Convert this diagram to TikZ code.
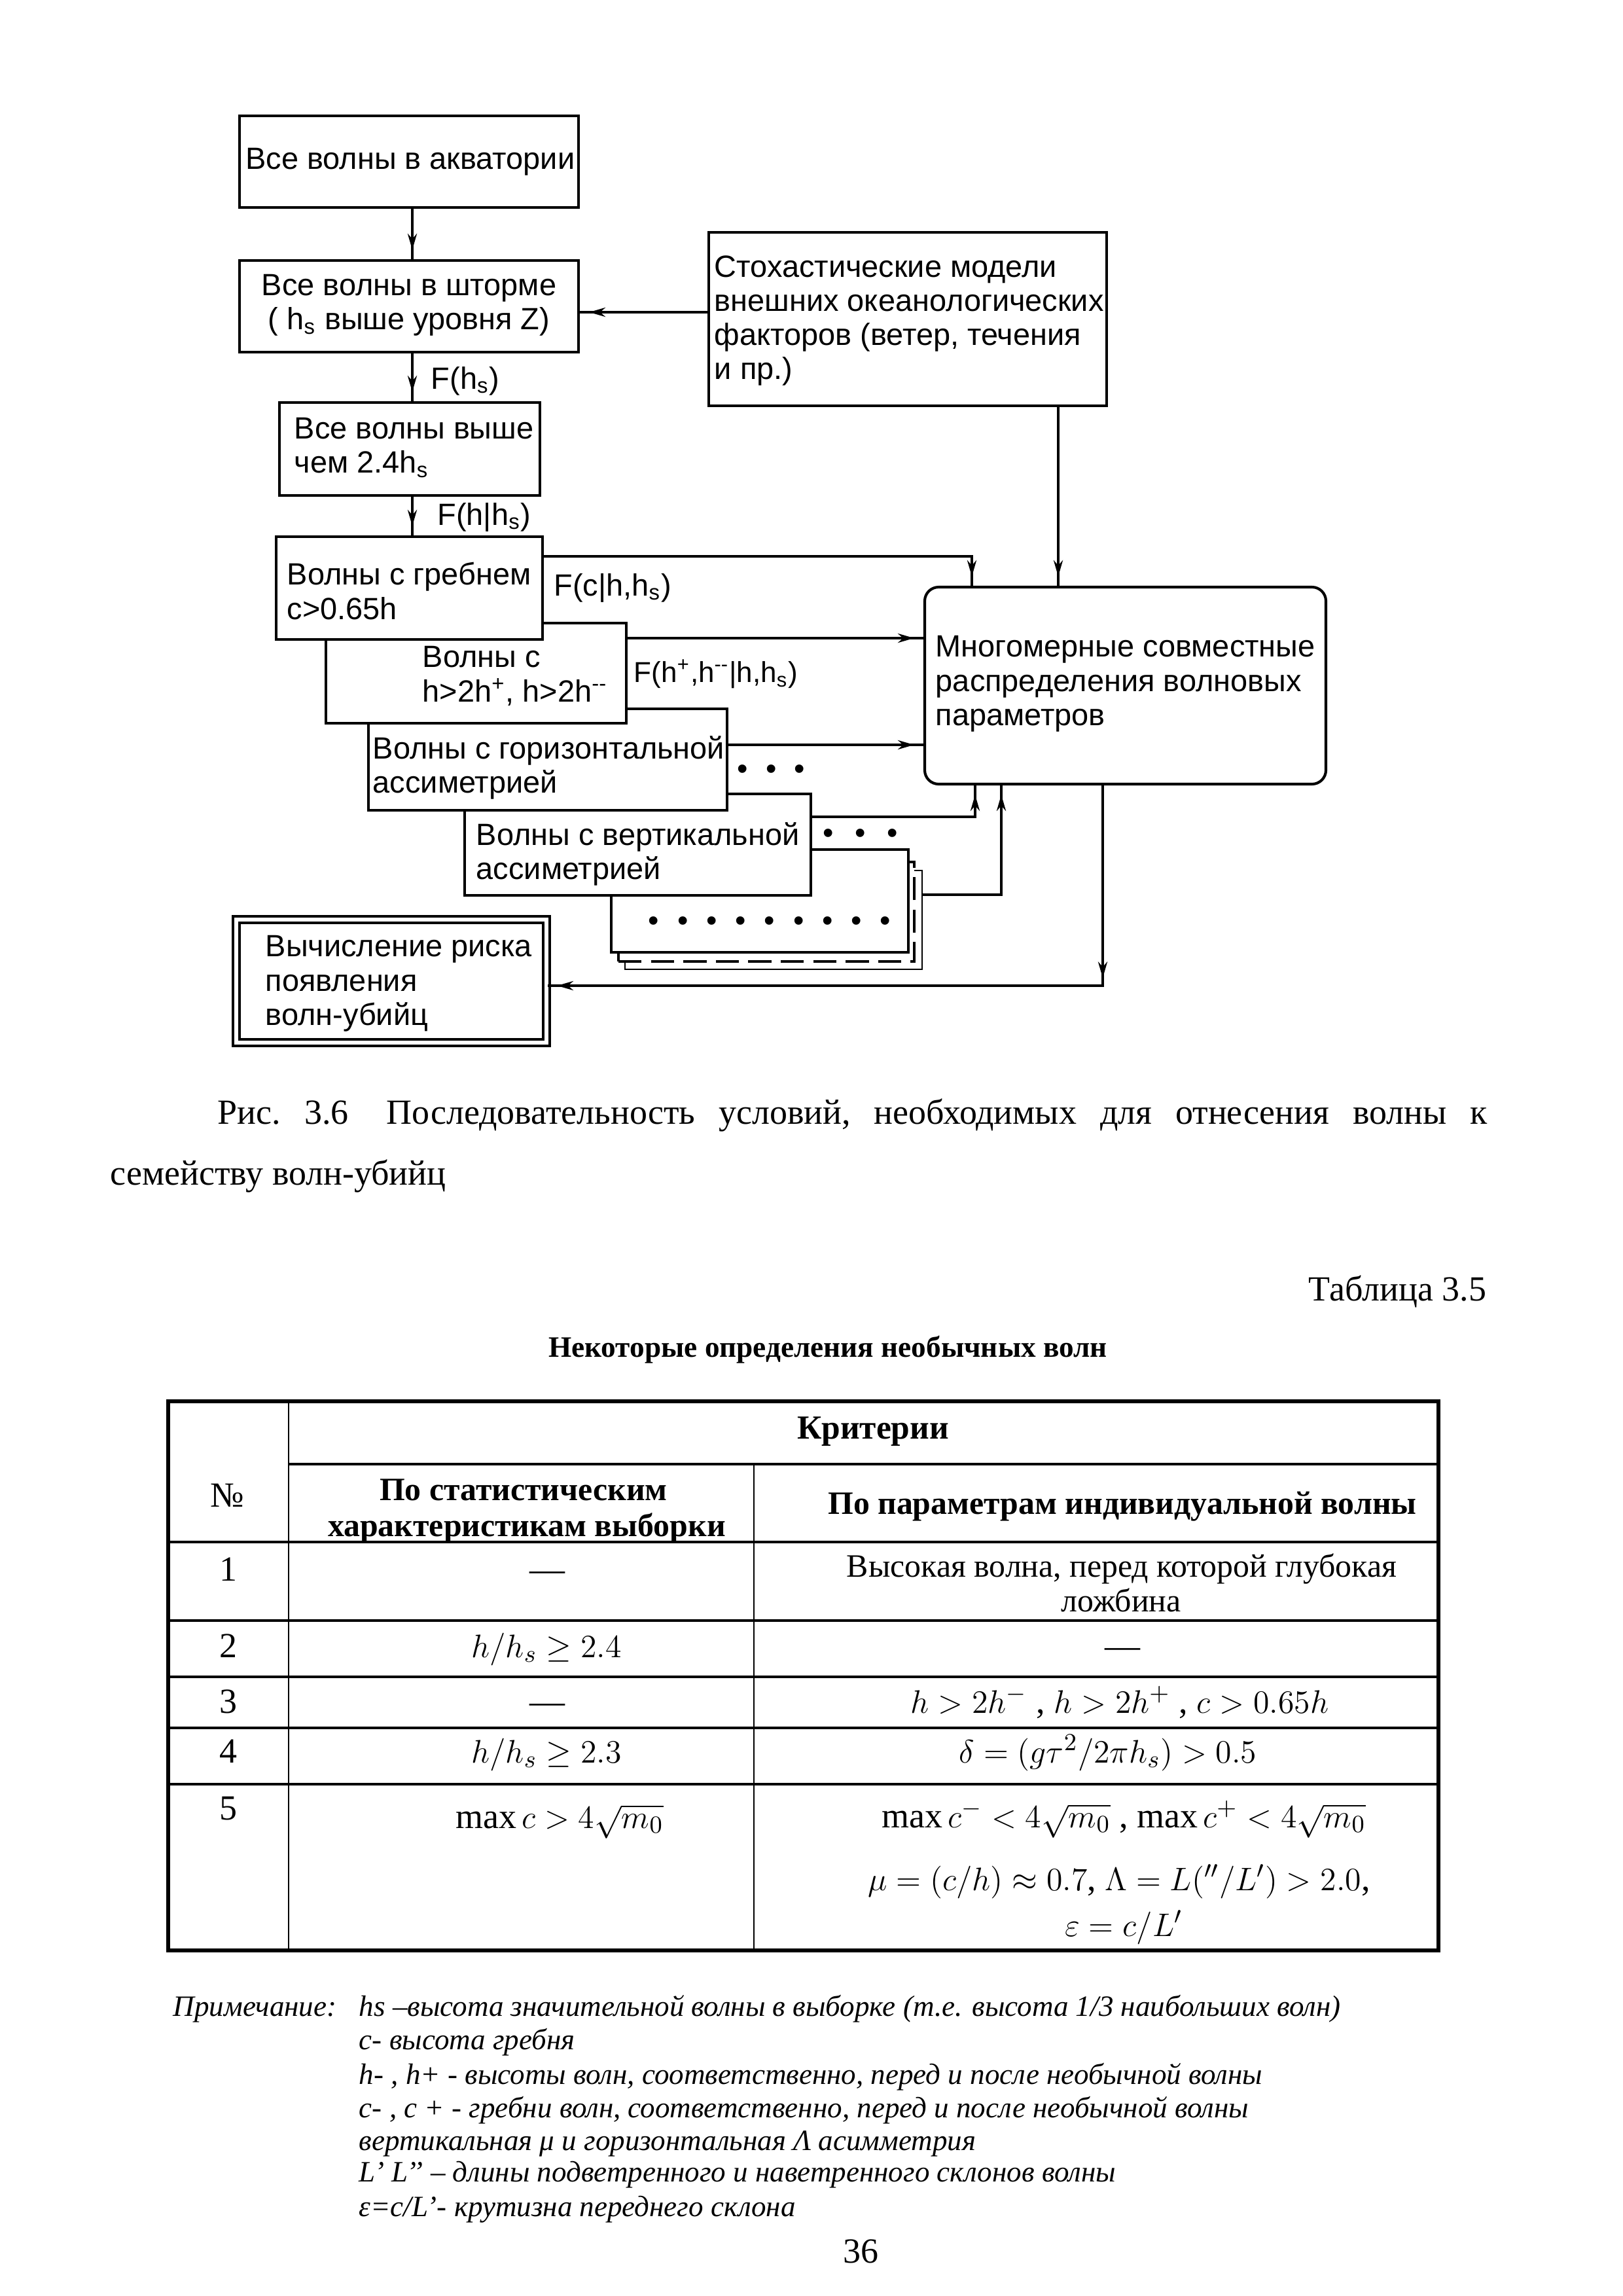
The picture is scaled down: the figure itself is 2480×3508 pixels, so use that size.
\documentclass[tikz,border=0pt]{standalone}
\usepackage{fontspec}
\setmainfont{Liberation Serif}
\newfontfamily\arialf{Liberation Sans}
\usetikzlibrary{arrows.meta,decorations.markings,fit}
\newdimen\pxu \pxu=0.0846667mm
\begin{document}
\begin{tikzpicture}[x=0.0846667mm,y=-0.0846667mm,
  >={Stealth[length=2.1mm,width=1.2mm]},
  box/.style={draw,line width=0.35mm,fill=white,inner sep=0pt},
  con/.style={line width=0.3mm},
  arr/.style={postaction={decorate},decoration={markings,mark=at position -1.2mm with {\arrow{>}}}},
  arrtwo/.style={postaction={decorate},decoration={markings,mark=at position 24.9mm with {\arrow{>}},mark=at position -1.2mm with {\arrow{>}}}},
  ft/.style={font=\arialf\fontsize{11.3}{12.6}\selectfont,inner sep=0pt,align=left},
  dotf/.style={font=\arialf\fontsize{11.3}{12.6}\selectfont,inner sep=0pt},
  tf/.style={font=\fontsize{12}{14}\selectfont,inner sep=0pt,anchor=base},
  tm/.style={font=\fontsize{13}{15}\selectfont,inner sep=0pt,anchor=base},
  tb/.style={font=\bfseries\fontsize{12}{14}\selectfont,inner sep=0pt,anchor=base},
  cf/.style={font=\fontsize{13}{15}\selectfont,inner sep=0pt},
  nf/.style={font=\itshape\fontsize{10.85}{13}\selectfont,inner sep=0pt,anchor=base west},
  tline/.style={line width=0.4mm},
  vline/.style={line width=0.25mm}]
\useasboundingbox (0,0) rectangle (2480,3508);
\fill[white] (0,0) rectangle (2480,3508);

% ---------- flowchart boxes ----------
\node[box,fit={(366,177) (884,317)}] (B1) {};
\node[ft,align=center] (T1) at (627,247) {Все волны в акватории};
\node[box,fit={(366,398) (884,538)}] (B2) {};
\node[ft,align=center] (T2) at (625,466) {Все волны в шторме\\( h\textsubscript{s} выше уровня Z)};
\node[box,fit={(1083,355) (1691,620)}] (S) {};
\node[ft,anchor=west] (TS) at (1091,490) {Стохастические модели\\внешних океанологических\\факторов (ветер, течения\\и пр.)};
\node[box,fit={(427,615) (825,757)}] (B3) {};
\node[ft,anchor=west] (T3) at (449,684) {Все волны выше\\чем 2.4h\textsubscript{s}};

\node[box,line width=0.2mm,fit={(955,1330) (1409,1481)}] (S3) {};
\node[box,dashed,dash pattern=on 3mm off 1.2mm,fit={(945,1317) (1397,1469)}] (S2) {};
\node[box,fit={(934,1298) (1388,1455)}] (B8) {};
\foreach \i in {0,...,8}{\node[dotf] (d8\i) at (999+44.25*\i,1412) {•};}
\node[box,fit={(710,1213) (1239,1368)}] (B7) {};
\node[ft,anchor=west] (T7) at (727,1305) {Волны с вертикальной\\ассиметрией};
\node[box,fit={(563,1083) (1111,1238)}] (B6) {};
\node[ft,anchor=west] (T6) at (569,1173) {Волны с горизонтальной\\ассиметрией};
\node[box,fit={(498,952) (957,1105)}] (B5) {};
\node[ft,anchor=west] (T5) at (645,1033) {Волны с\\h>2h\textsuperscript{+}, h>2h\textsuperscript{--}};
\node[box,fit={(422,820) (829,977)}] (B4) {};
\node[ft,anchor=west] (T4) at (438,903) {Волны с гребнем\\c>0.65h};

\node[box,rounded corners=1.8mm,fit={(1413,897) (2026,1198)}] (Big) {};
\node[ft,anchor=west] (TB) at (1429,1045) {Многомерные совместные\\распределения волновых\\параметров};

\node[box,double,double distance=0.55mm,fit={(361,1405) (835,1593)}] (Fin) {};
\node[ft,anchor=west] (TF) at (405,1503) {Вычисление риска\\появления\\волн-убийц};

\foreach \i in {0,1,2}{\node[dotf] (d6\i) at (1135+43.5*\i,1180) {•};}
\foreach \i in {0,1,2}{\node[dotf] (d7\i) at (1266+49*\i,1278) {•};}

% ---------- labels ----------
\node[ft] (L1) at (711,582) {F(h\textsubscript{s})};
\node[ft] (L2) at (740,790) {F(h|h\textsubscript{s})};
\node[ft] (L3) at (936,898) {F(c|h,h\textsubscript{s})};
\node[ft,font=\arialf\fontsize{10.6}{12}\selectfont] (L4) at (1094,1030) {F(h\textsuperscript{+},h\textsuperscript{--}|h,h\textsubscript{s})};

% ---------- connectors ----------
\draw[con,arr] (B1.south -| 630,0) -- (B2.north -| 630,0);
\draw[con,arr] (S.west |- 0,477) -- (B2.east |- 0,477);
\draw[con,arr] (B2.south -| 630,0) -- (B3.north -| 630,0);
\draw[con,arr] (B3.south -| 630,0) -- (B4.north -| 630,0);
\draw[con,arr] (B4.east |- 0,850) -| (Big.north -| 1485,0);
\draw[con,arr] (S.south -| 1617,0) -- (Big.north -| 1617,0);
\draw[con,arr] (B5.east |- 0,975) -- (Big.west |- 0,975);
\draw[con,arr] (B6.east |- 0,1138) -- (Big.west |- 0,1138);
\draw[con,arr] (B7.east |- 0,1248) -| (Big.south -| 1490,0);
\draw[con,arr] (S3.east |- 0,1367) -| (Big.south -| 1530,0);
\draw[con,arrtwo] (Big.south -| 1685,0) |- (Fin.east |- 0,1506);

% ---------- caption ----------
\node[cf,anchor=base west] (cap1) at (332,1717) {\hbox to 1940\pxu{Рис.\hfil\ 3.6\hfil\hfil\ Последовательность\hfil\ условий,\hfil\ необходимых\hfil\ для\hfil\ отнесения\hfil\ волны\hfil\ к}};
\node[cf,anchor=base west] (cap2) at (168,1810) {семейству волн-убийц};
\node[cf,anchor=base east] (tabno) at (2272,1987) {Таблица 3.5};
\node[font=\bfseries\fontsize{10.9}{12}\selectfont,inner sep=0pt,anchor=base] (ttl) at (1265,2073) {Некоторые определения необычных волн};

% ---------- table ----------
\draw[line width=0.55mm] (257,2141) rectangle (2198,2980);
\draw[tline] (441,2237) -- (2198,2237);
\foreach \yy in {2356,2476,2562,2640,2726}{\draw[tline] (257,\yy) -- (2198,\yy);}
\draw[vline] (441,2141) -- (441,2980);
\draw[vline] (1152,2237) -- (1152,2980);

\node[tm] (hno) at (347,2302) {№};
\node[tb,font=\bfseries\fontsize{12.4}{14}\selectfont] (hcr) at (1334,2198) {Критерии};
\node[tb] (hs1) at (800,2292) {По статистическим};
\node[tb] (hs2) at (805,2347) {характеристикам выборки};
\node[tb] (hp) at (1715,2313) {По параметрам индивидуальной волны};

\node[tm] (n1) at (349,2415) {1};
\node[tm] (r1b) at (836,2415) {—};
\node[tf] (r1c) at (1714,2409) {Высокая волна, перед которой глубокая};
\node[tf] (r1d) at (1713,2462) {ложбина};

\node[tm] (n2) at (349,2532) {2};
\node[tm] (r2b) at (835,2532) {$h/h_s\geq 2.4$};
\node[tm] (r2c) at (1715,2532) {—};

\node[tm] (n3) at (349,2617) {3};
\node[tm] (r3b) at (836,2617) {—};
\node[tm] (r3c) at (1711,2617) {$h>2h^{-}$ , $h>2h^{+}$ , $c>0.65h$};

\node[tm] (n4) at (349,2693) {4};
\node[tm] (r4b) at (835,2693) {$h/h_s\geq 2.3$};
\node[tm] (r4c) at (1693,2693) {$\delta=(g\tau^2/2\pi h_s)>0.5$};

\node[tm] (n5) at (349,2780) {5};
\node[tm] (r5b) at (855,2793) {$\max c>4\sqrt{m_0}$};
\node[tm] (r5c) at (1717,2792) {$\max c^{-}<4\sqrt{m_0}$ , $\max c^{+}<4\sqrt{m_0}$};
\node[tm] (r5d) at (1710,2888) {$\mu=(c/h)\approx 0.7$, $\Lambda=L({}^{\prime\prime}/L^{\prime})>2.0$,};
\node[tm] (r5e) at (1717,2958) {$\varepsilon=c/L^{\prime}$};

% ---------- notes ----------
\node[nf] (nt0) at (264,3080) {Примечание:};
\node[nf] (nt1) at (548,3080) {hs –высота значительной волны в выборке (т.е. высота 1/3 наибольших волн)};
\node[nf] (nt2) at (548,3131) {c- высота гребня};
\node[nf] (nt3) at (548,3184) {h- , h+ - высоты волн, соответственно, перед и после необычной волны};
\node[nf] (nt4) at (548,3235) {c- , c + - гребни волн, соответственно, перед и после необычной волны};
\node[nf] (nt5) at (548,3285) {вертикальная μ и горизонтальная Λ асимметрия};
\node[nf] (nt6) at (548,3333) {L’ L’{}’ – длины подветренного и наветренного склонов волны};
\node[nf] (nt7) at (548,3386) {ε=c/L’- крутизна переднего склона};
\node[cf,anchor=base] (pg) at (1315,3457) {36};
\end{tikzpicture}
\end{document}
